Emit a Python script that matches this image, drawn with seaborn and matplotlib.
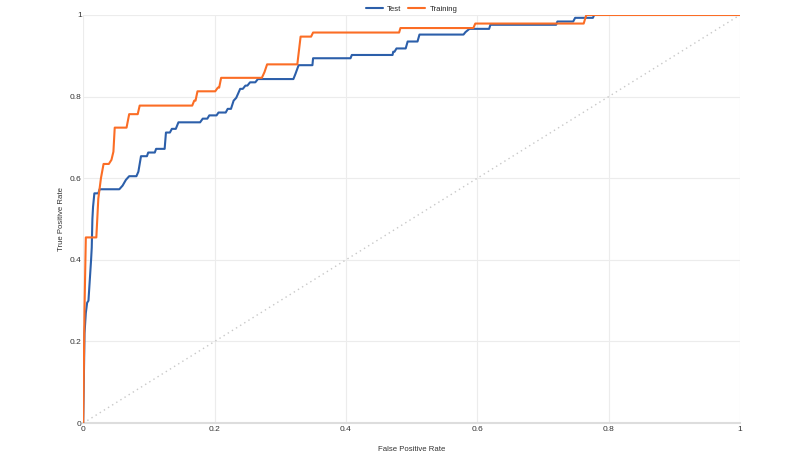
import matplotlib
matplotlib.use("Agg")
import matplotlib.pyplot as plt
from matplotlib.ticker import FuncFormatter
import numpy as np
import pandas as pd
import seaborn as sns

# ROC points
test_fpr = [0, 0.002, 0.004, 0.006, 0.008, 0.012, 0.013, 0.014, 0.015, 0.017, 0.023, 0.025,
            0.055, 0.060, 0.065, 0.070, 0.081, 0.084, 0.088, 0.097, 0.099, 0.109, 0.111,
            0.124, 0.126, 0.132, 0.135, 0.141, 0.145, 0.178, 0.182, 0.189, 0.192, 0.203,
            0.206, 0.217, 0.220, 0.225, 0.229, 0.233, 0.239, 0.243, 0.247, 0.250, 0.254,
            0.262, 0.266, 0.320, 0.323, 0.328, 0.349, 0.350, 0.407, 0.409, 0.471, 0.472,
            0.474, 0.477, 0.491, 0.494, 0.509, 0.512, 0.579, 0.582, 0.588, 0.618, 0.620,
            0.720, 0.722, 0.746, 0.749, 0.776, 0.778, 1.0]
test_tpr = [0, 0.22, 0.27, 0.295, 0.30, 0.40, 0.43, 0.50, 0.53, 0.563, 0.563, 0.573,
            0.573, 0.582, 0.596, 0.605, 0.605, 0.616, 0.654, 0.654, 0.663, 0.663, 0.672,
            0.672, 0.712, 0.712, 0.721, 0.721, 0.737, 0.737, 0.746, 0.746, 0.754, 0.754,
            0.761, 0.761, 0.770, 0.770, 0.790, 0.797, 0.819, 0.819, 0.827, 0.827, 0.835,
            0.835, 0.843, 0.843, 0.855, 0.877, 0.877, 0.894, 0.894, 0.902, 0.902, 0.910,
            0.910, 0.918, 0.918, 0.935, 0.935, 0.952, 0.952, 0.958, 0.966, 0.966, 0.976,
            0.976, 0.984, 0.984, 0.993, 0.993, 1.0, 1.0]

train_fpr = [0, 0.002, 0.004, 0.020, 0.023, 0.027, 0.031, 0.039, 0.043, 0.046, 0.048,
             0.066, 0.070, 0.083, 0.086, 0.166, 0.169, 0.171, 0.174, 0.201, 0.205, 0.207,
             0.210, 0.272, 0.276, 0.280, 0.326, 0.331, 0.347, 0.350, 0.481, 0.483, 0.594,
             0.597, 0.762, 0.766, 1.0]
train_tpr = [0, 0.28, 0.455, 0.455, 0.55, 0.60, 0.635, 0.635, 0.645, 0.665, 0.724,
             0.724, 0.757, 0.757, 0.778, 0.778, 0.790, 0.790, 0.813, 0.813, 0.822, 0.822,
             0.846, 0.846, 0.860, 0.879, 0.879, 0.947, 0.947, 0.957, 0.957, 0.968, 0.968,
             0.979, 0.979, 1.0, 1.0]

ticks = [0, 0.2, 0.4, 0.6, 0.8, 1]

df = pd.concat([
    pd.DataFrame({"fpr": test_fpr, "tpr": test_tpr, "set": "Test"}),
    pd.DataFrame({"fpr": train_fpr, "tpr": train_tpr, "set": "Training"}),
])

sns.set_theme(style="white")
plt.rcParams["font.family"] = ["Liberation Sans", "DejaVu Sans"]

fig = plt.figure(figsize=(8, 4.54), dpi=100)
ax = fig.add_axes([0.104, 0.068, 0.821, 0.899])

ax.plot([0, 1], [0, 1], color="#c8c8c8", lw=1, ls=(0, (1, 2.5)), zorder=1)
sns.lineplot(data=df, x="fpr", y="tpr", hue="set", sort=False, estimator=None,
             palette={"Test": "#2c5faa", "Training": "#fb6d25"}, lw=1.5, ax=ax, zorder=3)

ax.set_xlim(0, 1)
ax.set_ylim(0, 1)
ax.set_xticks(ticks)
ax.set_yticks(ticks)
fmt = FuncFormatter(lambda v, p: "%g" % v)
ax.xaxis.set_major_formatter(fmt)
ax.yaxis.set_major_formatter(fmt)
ax.tick_params(axis="both", length=0, labelsize=6, colors="#333333")
ax.tick_params(axis="x", pad=2)
ax.tick_params(axis="y", pad=1)
ax.grid(True, color="#ececec", lw=0.8)
for s in ["top", "right", "left"]:
    ax.spines[s].set_visible(False)
ax.spines["bottom"].set_color("#dddddd")
ax.spines["bottom"].set_linewidth(1.5)

ax.set_xlabel("False Positive Rate", fontsize=5.6, color="#333333")
ax.set_ylabel("True Positive Rate", fontsize=5.6, color="#333333")
ax.xaxis.set_label_coords(0.5, -0.055)
ax.yaxis.set_label_coords(-0.028, 0.5)

ax.legend(loc="lower center", bbox_to_anchor=(0.5, 0.997), ncol=2, frameon=False,
          fontsize=5.6, handlelength=2.2, columnspacing=0.9, borderaxespad=0, handletextpad=0.5)

fig.savefig("out.png", dpi=100)
